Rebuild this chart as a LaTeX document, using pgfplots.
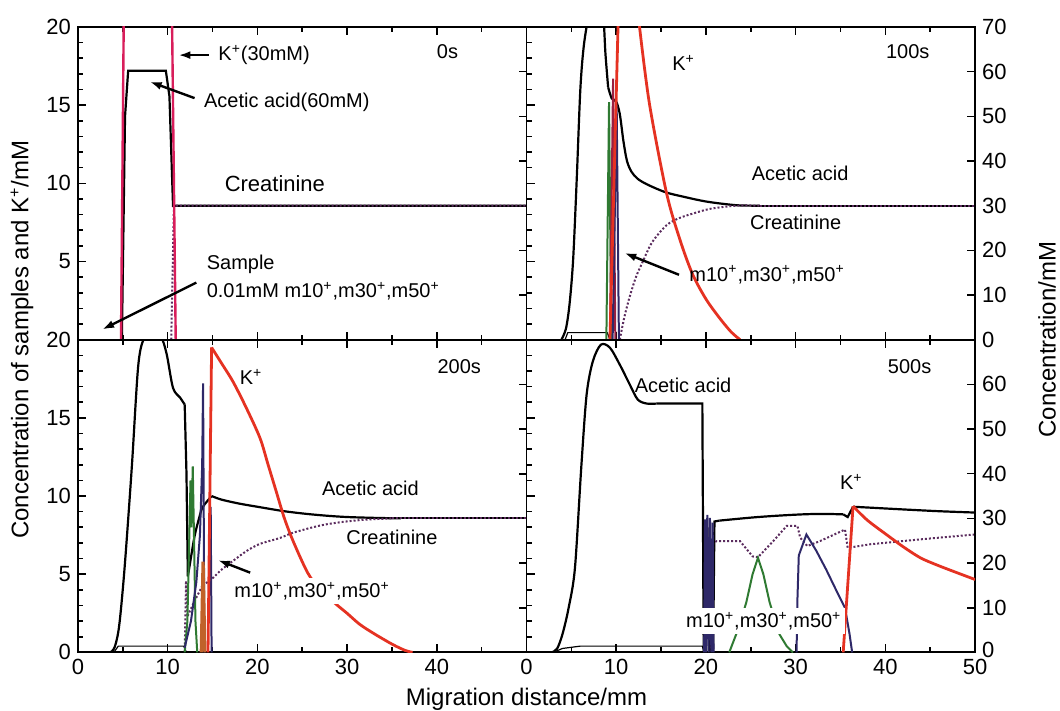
\documentclass[border=0pt]{standalone}
\usepackage{fontspec}
\setmainfont{Liberation Sans}
\usepackage{pgfplots}
\pgfplotsset{compat=1.18}
\usetikzlibrary{arrows.meta}

\definecolor{kmag}{HTML}{D81E5B}
\definecolor{kred}{HTML}{E53222}
\definecolor{sgreen}{HTML}{2F7A32}
\definecolor{snavy}{HTML}{2E2868}
\definecolor{smaroon}{HTML}{9A1F40}
\definecolor{sbrown}{HTML}{C0622A}
\definecolor{creatc}{HTML}{5B2C5E}

\pgfplotsset{
 common/.style={scale only axis,width=224.5pt,height=156.5pt,anchor=south west,
   xmin=0,xmax=50,tick align=inside,major tick length=4pt,minor tick length=2.5pt,
   axis line style={line width=0.9pt},every tick/.style={black,line width=0.8pt},
   tick label style={font=\fontsize{11}{13}\selectfont},
   /pgf/number format/assume math mode=true},
 lpanel/.style={common,ymin=0,ymax=20,xtick={0,10,...,50},minor x tick num=1,
   ytick={0,5,...,20},minor y tick num=4,xtick pos=both,ytick pos=left},
 rpanel/.style={common,ymin=0,ymax=70,xtick=\empty,ytick={0,10,...,70},
   ytick pos=right,yticklabel pos=right},
 acet/.style={black,line width=1.1pt},
 sm/.style={smooth,tension=0.5},
 creat/.style={color=creatc,line width=1pt,dash pattern=on 1pt off 1pt},
 kion/.style={kred,line width=1.4pt},
 samp/.style={line width=1pt},
 low/.style={black,line width=0.6pt}
}
\tikzset{
 ann/.style={font=\fontsize{10}{12}\selectfont,inner sep=1pt},
 pt/.style={-{Latex[length=6pt,width=4pt]},line width=1.2pt}
}

\begin{document}
\begin{tikzpicture}
\path[use as bounding box] (-39pt,-29pt) rectangle (491.5pt,326.5pt);

% ---------------- 0 s
\begin{axis}[rpanel,at={(0pt,156.5pt)},yticklabels=\empty]
\addplot[acet] coordinates {(4.9,0)(5.25,50)(5.6,60.2)(9.8,60.2)(10.2,54.5)(10.6,30)(50,30)};
\addplot[creat] coordinates {(10.4,0)(10.7,30)(50,30)};
\end{axis}
\begin{axis}[lpanel,at={(0pt,156.5pt)},xticklabels=\empty,yticklabels={{},5,10,15,20}]
\addplot[kmag,line width=1.2pt] coordinates {(4.8,0)(5.25,30)(10.3,30)(10.9,0)};
\draw[pt] (axis cs:14.6,18.2) -- (axis cs:11.2,18.2);
\node[ann,anchor=west] at (axis cs:15.4,18.2) {K\textsuperscript{+}(30mM)};
\node[ann,anchor=west] at (axis cs:13.8,15.2) {Acetic acid(60mM)};
\draw[pt] (axis cs:13.0,15.45) -- (axis cs:8.0,16.5);
\node[ann,anchor=west,font=\fontsize{11}{13}\selectfont] at (axis cs:16.1,10.0) {Creatinine};
\node[ann,anchor=west] at (axis cs:14.1,4.8) {Sample};
\node[ann,anchor=west] at (axis cs:14.1,3.1) {0.01mM m10\textsuperscript{+},m30\textsuperscript{+},m50\textsuperscript{+}};
\draw[pt] (axis cs:13.2,3.65) -- (axis cs:2.7,0.65);
\node[ann] at (axis cs:41.2,18.4) {0s};
\end{axis}

% ---------------- 100 s
\begin{axis}[rpanel,at={(224.5pt,156.5pt)}]
\addplot[acet] coordinates {(0,0)(3.9,0)};
\addplot[acet,sm] coordinates {(3.9,0)(4.4,2.5)(4.8,8)(5.2,18)(5.6,36)(6.0,56)(6.4,66)(7.0,73)(7.8,77)(8.5,74)(8.8,64)(9.1,56.5)};
\addplot[acet,sm] coordinates {(9.1,56.5)(9.5,54)(10.0,53.3)(10.4,50.5)(10.8,44.5)(11.2,40)(11.7,37.6)(12.4,36)(13.5,34.7)(15.5,33)(17.5,32)(20.1,30.9)(23.4,30.1)(26,30)};
\addplot[acet] coordinates {(26,30)(50,30)};
\addplot[creat,sm] coordinates {(10.4,0)(10.9,5)(11.5,9.6)(12.2,14)(12.9,17.2)(14.0,21.8)(15.6,25.6)(17,27.2)(18.5,28.2)(20.5,29.3)(23.4,30)(26,30)};
\addplot[creat] coordinates {(26,30)(50,30)};
\end{axis}
\begin{axis}[lpanel,at={(224.5pt,156.5pt)},xticklabels=\empty,yticklabels=\empty]
\addplot[low] coordinates {(4.3,0)(4.6,0.45)(9.0,0.45)(9.3,0)};
\addplot[samp,sgreen] coordinates {(8.9,0)(9.2,15.2)(9.45,0)};
\addplot[samp,smaroon] coordinates {(9.3,0)(9.65,16.7)(9.9,0)};
\addplot[samp,snavy] coordinates {(9.6,0)(10.05,15)(10.3,0)};
\addplot[kion] coordinates {(9.3,0)(10.2,20)(11.4,26)(12.6,20)};
\addplot[kion,sm] coordinates {(12.6,20)(13.7,15.1)(15.6,9.4)(17.1,6.4)(18.5,4.2)(20,2.6)(21.5,1.4)(22.8,0.5)(23.8,0)};
\node[ann] at (axis cs:17.5,17.7) {K\textsuperscript{+}};
\node[ann] at (axis cs:42.5,18.4) {100s};
\node[ann] at (axis cs:30.5,10.65) {Acetic acid};
\node[ann] at (axis cs:30.0,7.5) {Creatinine};
\node[ann,anchor=west] at (axis cs:17.9,4.15) {m10\textsuperscript{+},m30\textsuperscript{+},m50\textsuperscript{+}};
\draw[pt] (axis cs:17.0,4.15) -- (axis cs:10.9,5.55);
\end{axis}

% ---------------- 200 s
\begin{axis}[rpanel,at={(0pt,0pt)},yticklabels=\empty]
\addplot[acet] coordinates {(0,0)(3.6,0)};
\addplot[acet,sm] coordinates {(3.6,0)(4.1,1.2)(4.6,6)(5.2,18.9)(6.0,41.3)(6.7,63.7)(7.3,70)(8.3,72)(9.3,70.5)(9.9,66.7)(10.6,59.2)(11.4,57)(11.9,55.5)};
\addplot[acet] coordinates {(11.9,55.5)(12.1,40)(12.25,17)(12.5,20)};
\addplot[acet,sm] coordinates {(12.5,20)(13.0,26)(13.5,30)(13.9,32.5)(14.9,35)};
\addplot[acet,sm] coordinates {(14.9,35)(16,34.2)(18,33.3)(20.3,32.5)(23,31.6)(25.5,31)(27.7,30.6)(30,30.3)(33.3,30.1)(36,30)};
\addplot[acet] coordinates {(36,30)(50,30)};
\addplot[creat] coordinates {(11.9,0)(12.05,16)(12.2,8)(13.0,11.5)(13.9,15)};
\addplot[creat,sm] coordinates {(13.9,15)(14.9,16.4)(16,18.5)(17.3,20.5)(18.8,22.7)(20.3,24.3)(22.5,25.6)(24,26.8)(27,28.4)(29.5,29.2)(32,29.7)(35,30)};
\addplot[creat] coordinates {(35,30)(50,30)};
\end{axis}
\begin{axis}[lpanel,at={(0pt,0pt)},xticklabels={0,10,20,30,40,{}}]
\addplot[low] coordinates {(4.0,0)(4.5,0.4)(11.8,0.4)(12.1,0)};
\addplot[samp,sgreen] coordinates {(11.9,0)(12.2,2)(12.4,7)(12.55,11)(12.65,8)(12.8,11.9)(12.95,7)(13.1,2)(13.3,0)};
\addplot[samp,snavy] coordinates {(11.9,0.3)(12.6,2)(13.2,4.5)(13.6,7.5)(13.85,12)(13.95,17.2)(14.1,0)};
\addplot[samp,snavy] coordinates {(14.8,9.3)(14.9,0)};
\addplot[samp,sbrown,line width=1.6pt] coordinates {(13.75,0)(13.95,5.8)(14.15,0)};
\addplot[kion] coordinates {(14.5,0)(14.9,19.5)};
\addplot[kion,sm] coordinates {(14.9,19.5)(16,18.5)(17.3,17.3)(18.8,15.6)(20.3,13.7)(21.2,12)(22.1,10.3)(23,8.6)(24,7.1)(25.6,5.1)(27,4.0)(28.8,3.07)(30,2.5)(31.4,1.8)(33,1.2)(35.1,0.5)(36.5,0.12)(37.3,0)};
\node[ann] at (axis cs:42.5,18.3) {200s};
\node[ann] at (axis cs:19.3,17.6) {K\textsuperscript{+}};
\node[ann] at (axis cs:32.6,10.5) {Acetic acid};
\node[ann] at (axis cs:35.0,7.35) {Creatinine};
\node[ann,fill=white,inner sep=2pt] at (axis cs:26.1,3.9) {m10\textsuperscript{+},m30\textsuperscript{+},m50\textsuperscript{+}};
\draw[pt] (axis cs:19.2,5.1) -- (axis cs:15.6,5.9);
\end{axis}

% ---------------- 500 s
\begin{axis}[rpanel,at={(224.5pt,0pt)},yticklabels={\raisebox{3pt}{0},10,20,30,40,50,60,{}}]
\addplot[acet] coordinates {(0,0)(2.8,0)};
\addplot[acet,sm] coordinates {(2.8,0)(3.4,0.8)(4.0,4.0)(4.7,10)(5.4,18.9)(6.1,41.3)(6.7,57.7)(7.4,65.2)(8.3,68.9)(9.3,68.2)(10.4,64.4)(11.5,60)(12.4,56.6)(13.4,55.7)(14.5,55.7)};
\addplot[acet] coordinates {(14.5,55.7)(19.6,55.7)(19.75,0)(20.3,0)(20.4,28)(20.5,0)(20.8,0)(20.95,29.3)(21.5,29.5)};
\addplot[acet,sm] coordinates {(21.5,29.5)(25.2,30.2)(28,30.6)(30.8,30.9)(33,31)(35.3,30.9)};
\addplot[acet] coordinates {(35.3,30.9)(35.8,30.3)(36.4,32.6)};
\addplot[acet,sm] coordinates {(36.4,32.6)(38.3,32.4)(42,32)(46,31.6)(50,31.3)};
\addplot[creat] coordinates {(20.6,0)(20.8,24.5)(21.2,24.9)(23.8,24.9)(25.2,21.5)(25.8,21.3)(27.5,24.9)(29.0,28.3)(30.2,28.3)(30.5,25.7)(31.3,23.8)(32.7,24.9)(35.5,27.5)(35.8,23.4)(38.3,24.2)(43.9,25.3)(50,26.4)};
\end{axis}
\begin{axis}[lpanel,at={(224.5pt,0pt)},yticklabels=\empty]
\addplot[low] coordinates {(3.0,0)(4.0,0.25)(6.0,0.4)(19.6,0.4)(19.8,0)};
\addplot[samp,snavy] coordinates {(19.8,0)(19.9,8.5)(20.0,0)(20.15,8.8)(20.3,0)(20.45,8.6)(20.6,0)(20.75,8.3)(20.85,0)};
\addplot[samp,sgreen] coordinates {(22.6,0)(23.6,1.5)(24.5,3.2)(25.2,5)(25.8,6.05)(26.4,5)(27.1,3.2)(28.2,1.15)(29.0,0.4)(29.7,0)};
\addplot[samp,snavy] coordinates {(30.1,0)(30.2,3.4)(30.35,6.2)(31.2,7.54)(32.3,6.5)(33.4,5.3)(34.5,4.0)(35.5,2.85)(36.0,1.2)(36.3,0)};
\addplot[kion] coordinates {(35.3,0)(36.4,9.35)};
\addplot[kion,sm] coordinates {(36.4,9.35)(38,8.45)(40.2,7.5)(42,6.75)(43.9,6.05)(45.7,5.6)(47.5,5.2)(50,4.66)};
\node[ann] at (axis cs:42.7,18.3) {500s};
\node[ann,anchor=west] at (axis cs:11.8,17.1) {Acetic acid};
\node[ann] at (axis cs:36.2,10.9) {K\textsuperscript{+}};
\node[ann,fill=white,inner sep=2pt] at (axis cs:26.45,2.0) {m10\textsuperscript{+},m30\textsuperscript{+},m50\textsuperscript{+}};
\end{axis}

\node[rotate=90,font=\fontsize{12}{14}\selectfont] at (-28pt,156.5pt) {Concentration of samples and K\textsuperscript{+}/mM};
\node[rotate=90,font=\fontsize{12}{14}\selectfont] at (485pt,156.5pt) {Concentration/mM};
\node[font=\fontsize{12}{14}\selectfont] at (224.5pt,-23.5pt) {Migration distance/mm};
\end{tikzpicture}
\end{document}
